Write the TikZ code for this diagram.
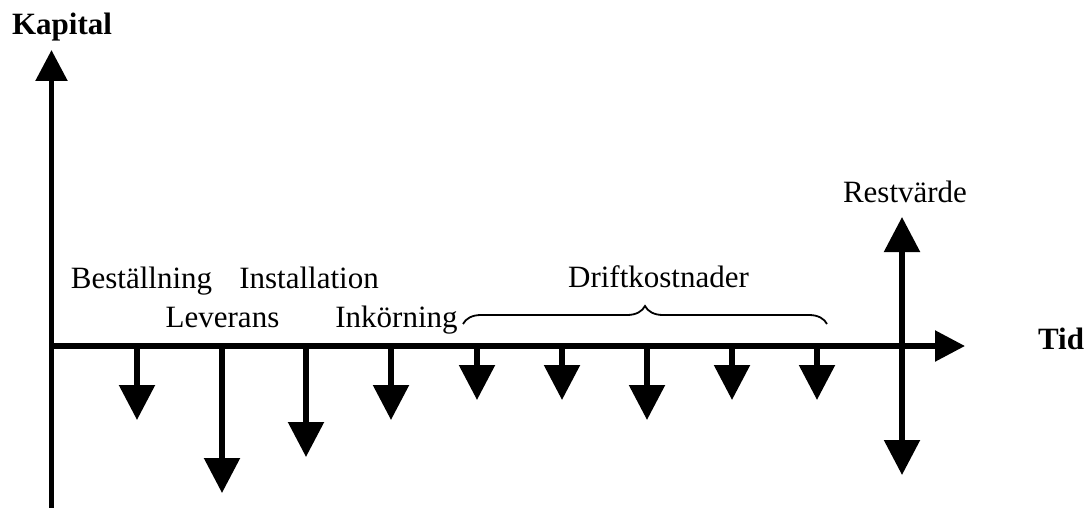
\documentclass[tikz,border=0pt]{standalone}
\usepackage{fontspec}
\setmainfont{Liberation Serif}
\usetikzlibrary{arrows.meta,decorations.pathreplacing}
\begin{document}
\begin{tikzpicture}[x=1pt,y=-1pt,
  lbl/.style={anchor=base,inner sep=0pt,font=\fontsize{31pt}{37pt}\selectfont},
  blbl/.style={lbl,font=\fontsize{31pt}{37pt}\selectfont\bfseries},
  axisline/.style={line width=5.5pt},
  cost/.style={line width=5.5pt,-{Triangle[length=35pt,width=35pt]}}]
\useasboundingbox (0,0) rectangle (1091,508);

% axes
\coordinate (o) at (51.5,346);
\coordinate (ybot) at (51.5,508);
\coordinate (ytop) at (51.5,50);
\coordinate (xend) at (965,346);
\draw[axisline,-{Triangle[length=31pt,width=31pt]}] (ybot) -- (ytop);
\draw[axisline,-{Triangle[length=30pt,width=30pt]}] (o) -- (xend);

% axis titles
\node[blbl] (kapital) at (62,35) {Kapital};
\node[blbl] (tid) at (1061,349) {Tid};

% payments along the time axis
\foreach \i/\x/\y in {1/137/420, 2/222/493, 3/306/457, 4/391/420,
                      5/477/400, 6/562/400, 7/647/420, 8/732/400, 9/817/400} {
  \coordinate (s\i) at (\x,346);
  \coordinate (t\i) at (\x,\y);
  \draw[cost] (s\i) -- (t\i);
}

% residual value
\coordinate (rtop) at (902,217);
\coordinate (rbot) at (902,475);
\draw[line width=5.5pt,{Triangle[length=35pt,width=35pt]}-{Triangle[length=35pt,width=35pt]}] (rbot) -- (rtop);

% brace over the operating costs
\coordinate (b0) at (463,324);
\coordinate (b1) at (827,324);
\draw[line width=1.8pt,decorate,decoration={brace,amplitude=18pt}] (b0) -- (b1);

% labels
\node[lbl] (best) at (141.5,288) {Beställning};
\node[lbl] (inst) at (309,288) {Installation};
\node[lbl] (lev) at (222.5,327) {Leverans};
\node[lbl] (ink) at (396.5,327) {Inkörning};
\node[lbl] (drift) at (658.5,287) {Driftkostnader};
\node[lbl] (rest) at (905,202) {Restvärde};
\end{tikzpicture}
\end{document}
